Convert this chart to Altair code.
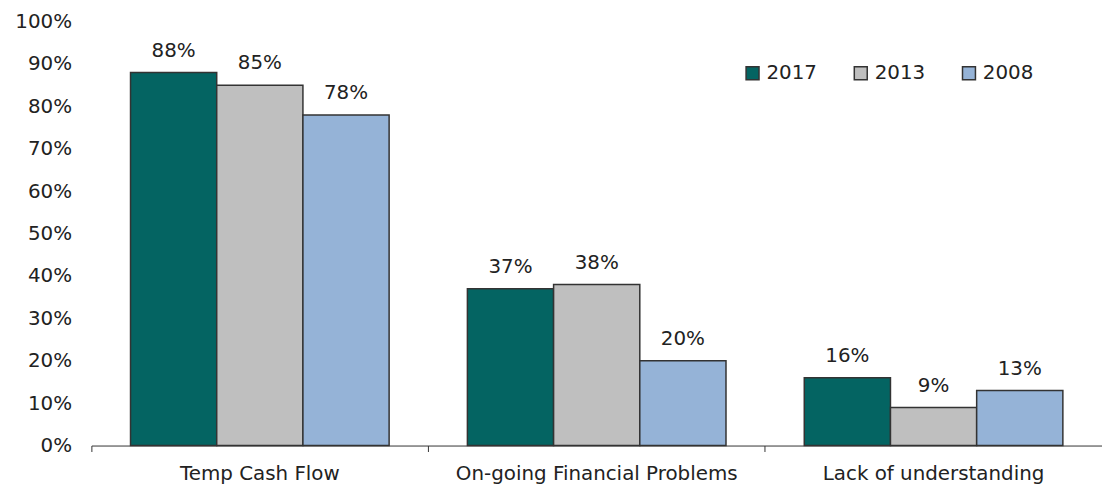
import altair as alt
import pandas as pd

categories = ["Temp Cash Flow", "On-going Financial Problems", "Lack of understanding"]
years = ["2017", "2013", "2008"]
v2017 = [88, 37, 16]
v2013 = [85, 38, 9]
v2008 = [78, 20, 13]
colors = ["#046462", "#BFBFBF", "#95B3D7"]

rows = []
for yr, vals in zip(years, [v2017, v2013, v2008]):
    for c, v in zip(categories, vals):
        rows.append({"cat": c, "year": yr, "value": v / 100, "label": f"{v}%"})
df = pd.DataFrame(rows)

FONT = "DejaVu Sans"
TXT = "#222222"
FS = 20

x = alt.X("cat:N", sort=categories, title=None,
          scale=alt.Scale(paddingInner=0, paddingOuter=0),
          axis=alt.Axis(labelAngle=0, bandPosition=0, domainColor="#333333",
                        tickColor="#333333", tickSize=6, labelPadding=12,
                        labelFontSize=FS, labelFont=FONT, labelColor=TXT,
                        labelLimit=600, domainWidth=1, tickWidth=1))
xo = alt.XOffset("year:N", sort=years,
                 scale=alt.Scale(paddingInner=0, paddingOuter=0.454))
y = alt.Y("value:Q", title=None,
          scale=alt.Scale(domain=[0, 1], nice=False),
          axis=alt.Axis(values=[i / 10 for i in range(11)], format=".0%",
                        domain=False, ticks=False, grid=False, labelPadding=20,
                        labelFontSize=FS, labelFont=FONT, labelColor=TXT))

bars = alt.Chart(df).mark_bar(stroke="#333333", strokeWidth=1.5).encode(
    x=x, xOffset=xo, y=y,
    color=alt.Color("year:N", sort=years,
                    scale=alt.Scale(domain=years, range=colors),
                    legend=alt.Legend(title=None, orient="none", direction="horizontal",
                                      legendX=656, legendY=42, symbolType="square",
                                      symbolSize=170, symbolStrokeColor="#333333",
                                      symbolStrokeWidth=1.5, labelFontSize=FS,
                                      labelFont=FONT, labelColor=TXT,
                                      columnPadding=34, labelOffset=4)),
)

labels = alt.Chart(df).mark_text(dy=-16, baseline="alphabetic", fontSize=FS,
                                 font=FONT, color=TXT).encode(
    x=x, xOffset=xo, y=y, text="label:N"
)

chart = alt.layer(bars, labels).properties(
    width=1018, height=427, background="white",
    autosize=alt.AutoSizeParams(type="none"),
    padding={"left": 84, "top": 12, "right": 0, "bottom": 38},
).configure_view(strokeWidth=0)

chart.save("out.html", embed_options={"renderer": "svg", "actions": False})
